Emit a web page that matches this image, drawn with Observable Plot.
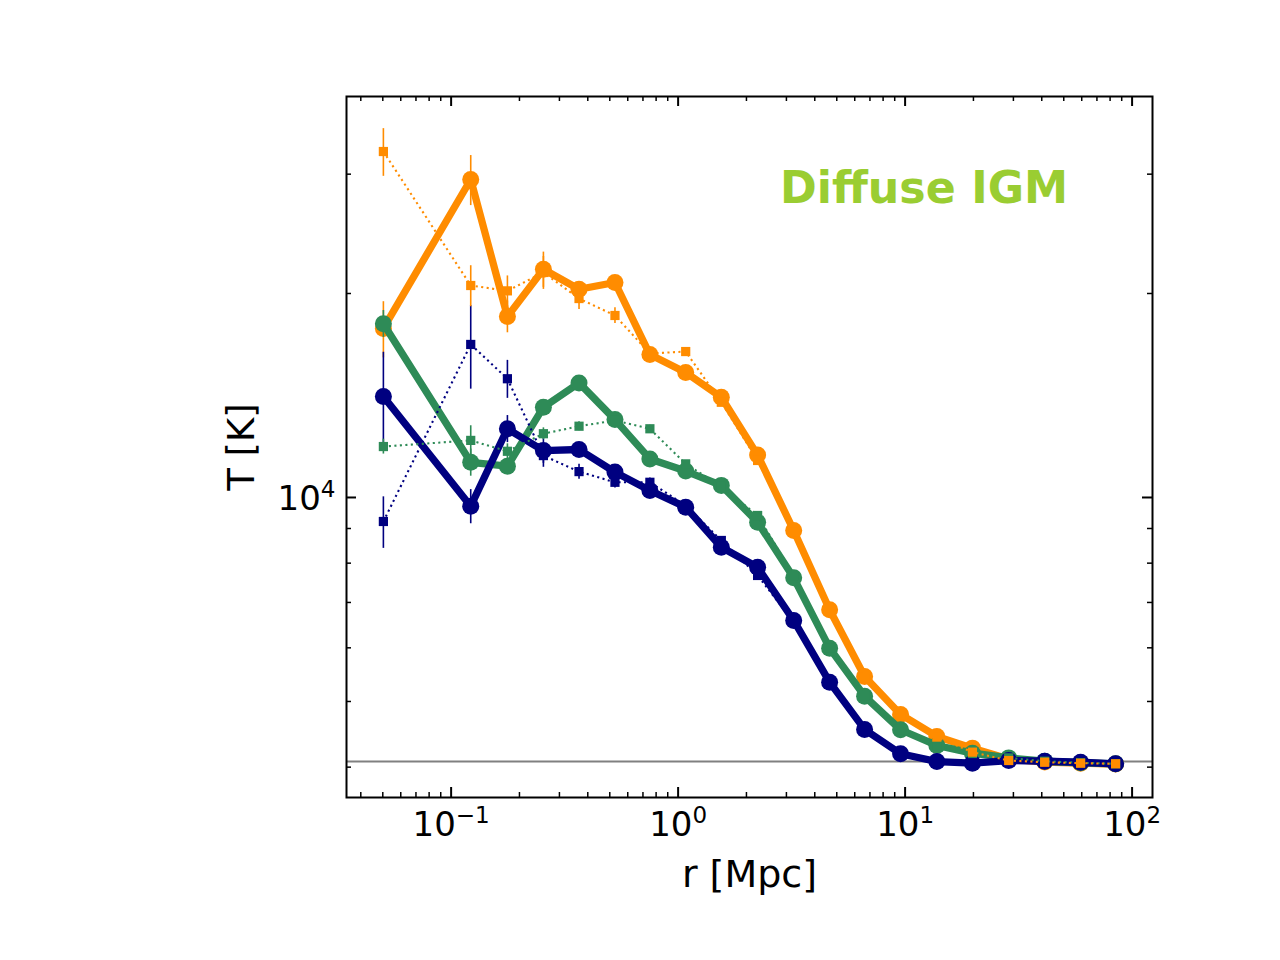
<!DOCTYPE html>
<html><head><meta charset="utf-8">
<script src="https://cdn.jsdelivr.net/npm/d3@7"></script>
<script src="https://cdn.jsdelivr.net/npm/@observablehq/plot@0.6"></script>
<style>body{margin:0;background:#fff}</style>
</head><body><div id="chart"></div>
<script>
// radius bins [Mpc]
const r = [0.0503, 0.122, 0.177, 0.255, 0.366, 0.527, 0.751, 1.08, 1.55, 2.24, 3.23, 4.65, 6.63, 9.55, 13.8, 19.8, 28.6, 41.2, 59.3, 84.6];
// temperatures [K] and errors
const tOrange    = [17760, 29460, 18500, 21720, 20290, 20760, 16250, 15290, 14060, 11550, 8940, 6830, 5444, 4784, 4440, 4267, 4112, 4070, 4054, 4043];
const eOrange    = [1690, 2500, 1000, 1300, 500, 400, 300, 250, 200, 150, 100, 60, 40, 20, 10, 10, 5, 5, 5, 5];
const tOrangeDot = [32400, 20550, 20180, 21480, 19660, 18560, 16310, 16420, 13820, 11340, 8900, 6800, 5420, 4770, 4430, 4209, 4091, 4067, 4054, 4046];
const eOrangeDot = [2620, 1430, 1050, 1200, 715, 500, 300, 200, 150, 100, 80, 60, 40, 20, 10, 10, 5, 5, 5, 5];
const tGreen     = [18050, 11270, 11120, 13590, 14760, 13030, 11400, 10940, 10420, 9196, 7612, 5992, 5090, 4542, 4306, 4195, 4128, 4081, 4060, 4046];
const eGreen     = [825, 520, 300, 300, 250, 200, 150, 120, 100, 80, 60, 40, 30, 20, 10, 10, 5, 5, 5, 5];
const tGreenDot  = [11890, 12140, 11700, 12420, 12740, 12990, 12630, 11210, 10380, 9407, 7672, 6000, 5100, 4547, 4306, 4190, 4128, 4081, 4060, 4046];
const eGreenDot  = [300, 620, 300, 250, 200, 150, 150, 120, 100, 80, 60, 40, 30, 20, 10, 10, 5, 5, 5, 5];
const tNavy      = [14090, 9709, 12630, 11730, 11770, 10900, 10240, 9676, 8445, 7891, 6585, 5339, 4547, 4186, 4077, 4054, 4091, 4081, 4067, 4046];
const eNavy      = [2290, 563, 580, 500, 250, 200, 150, 120, 100, 80, 60, 40, 30, 20, 10, 10, 5, 5, 5, 5];
const tNavyDot   = [9217, 16820, 14970, 11530, 10920, 10530, 10530, 9732, 8641, 7672, 6550, 5320, 4540, 4180, 4080, 4060, 4091, 4081, 4067, 4046];
const eNavyDot   = [805, 2370, 965, 450, 280, 200, 150, 120, 100, 80, 60, 40, 30, 20, 10, 10, 5, 5, 5, 5];
const floorT = [4077];

const xMajor = [0.1, 1, 10, 100];
const xMajorLabels = ["10^\u22121", "10^0", "10^1", "10^2"];
const xMinor = [0.04,0.05,0.06,0.07,0.08,0.09, 0.2,0.3,0.4,0.5,0.6,0.7,0.8,0.9, 2,3,4,5,6,7,8,9, 20,30,40,50,60,70,80,90];
const yMajor = [10000];
const yMajorLabels = ["10^4"];
const yMinor = [4000,5000,6000,7000,8000,9000,20000,30000];

const FONT = "DejaVu Sans";
const ORANGE = "#ff8c00", GREEN = "#2e8b57", NAVY = "#000080", LABEL = "#9acd32";
const W = 1280, H = 960, ML = 346, MR = 128, MT = 96, MB = 163;
const IW = W - ML - MR, IH = H - MT - MB;

const rows = (t, e) => r.map((x, i) => ({x, y: t[i], lo: t[i] - e[i], hi: t[i] + e[i]}));

function solid(t, e, color) {
  const d = rows(t, e);
  return [
    Plot.ruleX(d, {x: "x", y1: "lo", y2: "hi", stroke: color, strokeWidth: 1.6}),
    Plot.line(d, {x: "x", y: "y", stroke: color, strokeWidth: 7.3}),
    Plot.dot(d, {x: "x", y: "y", r: 8.5, fill: color, stroke: "none"})
  ];
}
function dotted(t, e, color) {
  const d = rows(t, e);
  return [
    Plot.ruleX(d, {x: "x", y1: "lo", y2: "hi", stroke: color, strokeWidth: 1.6}),
    Plot.line(d, {x: "x", y: "y", stroke: color, strokeWidth: 2.1, strokeDasharray: "2.1,3.4", strokeLinecap: "butt"}),
    Plot.dot(d, {x: "x", y: "y", r: 5.2, symbol: "square", fill: color, stroke: "none"})
  ];
}

const chart = Plot.plot({
  width: W, height: H,
  marginLeft: ML, marginRight: MR, marginTop: MT, marginBottom: MB,
  x: {type: "log", domain: [0.0346, 123], axis: null},
  y: {type: "log", domain: [3608, 39060], axis: null},
  style: {fontFamily: FONT, background: "white", color: "black"},
  marks: [
    Plot.ruleY(floorT, {y: d => d, stroke: "#808080", strokeWidth: 2}),
    ...solid(tOrange, eOrange, ORANGE),
    ...solid(tGreen, eGreen, GREEN),
    ...solid(tNavy, eNavy, NAVY),
    ...dotted(tNavyDot, eNavyDot, NAVY),
    ...dotted(tGreenDot, eGreenDot, GREEN),
    ...dotted(tOrangeDot, eOrangeDot, ORANGE),
    // inward ticks
    Plot.tickX(xMajor, {x: d => d, insetTop: IH - 10, stroke: "black", strokeWidth: 2}),
    Plot.tickX(xMajor, {x: d => d, insetBottom: IH - 10, stroke: "black", strokeWidth: 2}),
    Plot.tickX(xMinor, {x: d => d, insetTop: IH - 5, stroke: "black", strokeWidth: 1.5}),
    Plot.tickX(xMinor, {x: d => d, insetBottom: IH - 5, stroke: "black", strokeWidth: 1.5}),
    Plot.tickY(yMajor, {y: d => d, insetRight: IW - 10, stroke: "black", strokeWidth: 2}),
    Plot.tickY(yMajor, {y: d => d, insetLeft: IW - 10, stroke: "black", strokeWidth: 2}),
    Plot.tickY(yMinor, {y: d => d, insetRight: IW - 5, stroke: "black", strokeWidth: 1.5}),
    Plot.tickY(yMinor, {y: d => d, insetLeft: IW - 5, stroke: "black", strokeWidth: 1.5}),
    Plot.frame({stroke: "black", strokeWidth: 2}),
    // tick labels
    Plot.text(xMajor, {x: d => d, text: (d, i) => xMajorLabels[i], frameAnchor: "bottom", dy: 38, lineAnchor: "bottom", textAnchor: "middle", fontSize: 34, fontFamily: FONT, fill: "black"}),
    Plot.text(yMajor, {y: d => d, text: (d, i) => yMajorLabels[i], frameAnchor: "left", dx: -11, dy: 13, lineAnchor: "bottom", textAnchor: "end", fontSize: 34, fontFamily: FONT, fill: "black"}),
    // axis labels
    Plot.text(["r [Mpc]"], {text: d => d, frameAnchor: "bottom", dy: 89.7, lineAnchor: "bottom", textAnchor: "middle", fontSize: 38, fontFamily: FONT, fill: "black"}),
    Plot.text(["T [K]"], {text: d => d, frameAnchor: "left", dx: -93, rotate: -90, lineAnchor: "bottom", textAnchor: "middle", fontSize: 37, fontFamily: FONT, fill: "black"}),
    // annotation
    Plot.text(["Diffuse IGM"], {text: d => d, frameAnchor: "top", dx: 30.5, dy: 106, lineAnchor: "bottom", textAnchor: "start", fontSize: 44.3, fontWeight: "bold", fontFamily: FONT, fill: LABEL})
  ]
});

// render "base^exp" labels as real superscripts
const NS = "http://www.w3.org/2000/svg";
chart.querySelectorAll("text").forEach(t => {
  const s = t.textContent;
  const i = s.indexOf("^");
  if (i < 0) return;
  t.textContent = s.slice(0, i);
  const sup = document.createElementNS(NS, "tspan");
  sup.setAttribute("font-size", "23");
  sup.setAttribute("dy", "-13");
  sup.textContent = s.slice(i + 1);
  t.appendChild(sup);
});
document.getElementById("chart").appendChild(chart);
</script>
</body></html>
